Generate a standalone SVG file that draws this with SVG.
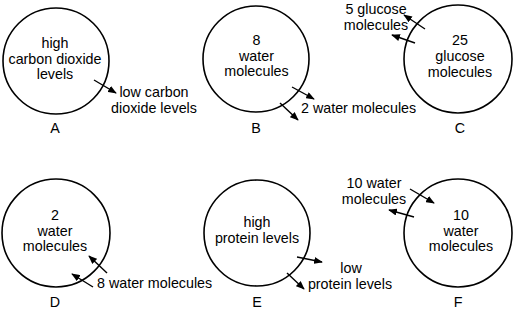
<svg xmlns="http://www.w3.org/2000/svg" width="514" height="310" viewBox="0 0 514 310">
<defs>
<marker id="ah" viewBox="0 0 10 8" refX="9" refY="4" markerWidth="9" markerHeight="7" markerUnits="userSpaceOnUse" orient="auto">
<path d="M0,0 L10,4 L0,8 Z" fill="#000"/>
</marker>
<style>
.c{fill:none;stroke:#000;stroke-width:1.6}
.t{font-family:"Liberation Sans",Arial,sans-serif;font-size:14.3px;fill:#000}
.m{text-anchor:middle}
.a{stroke:#000;stroke-width:1.4;fill:none;marker-end:url(#ah)}
</style>
</defs>
<rect width="514" height="310" fill="#fff"/>
<g id="nodeA">
<circle class="c" cx="56" cy="61" r="53"/>
<text class="t m" x="55" y="48">high</text>
<text class="t m" x="55" y="64">carbon dioxide</text>
<text class="t m" x="55" y="79">levels</text>
<text class="t m" x="154" y="97">low carbon</text>
<text class="t m" x="154" y="113">dioxide levels</text>
<text class="t m" x="55" y="133">A</text>
</g>
<g id="nodeB">
<circle class="c" cx="256" cy="59" r="53"/>
<text class="t m" x="256.5" y="45">8</text>
<text class="t m" x="256.5" y="61">water</text>
<text class="t m" x="256.5" y="76">molecules</text>
<text class="t" x="301" y="113">2 water molecules</text>
<text class="t m" x="256" y="133">B</text>
</g>
<g id="nodeC">
<circle class="c" cx="458" cy="59" r="54"/>
<text class="t m" x="460" y="45">25</text>
<text class="t m" x="460" y="61">glucose</text>
<text class="t m" x="460" y="77">molecules</text>
<text class="t m" x="376" y="14">5 glucose</text>
<text class="t m" x="376" y="30">molecules</text>
<text class="t m" x="460" y="133">C</text>
</g>
<g id="nodeD">
<circle class="c" cx="56" cy="233" r="54"/>
<text class="t m" x="55" y="220">2</text>
<text class="t m" x="55" y="236">water</text>
<text class="t m" x="55" y="251">molecules</text>
<text class="t" x="97" y="288">8 water molecules</text>
<text class="t m" x="55" y="307">D</text>
</g>
<g id="nodeE">
<circle class="c" cx="257" cy="233" r="53"/>
<text class="t m" x="257" y="227">high</text>
<text class="t m" x="257" y="243">protein levels</text>
<text class="t m" x="351" y="273">low</text>
<text class="t m" x="350" y="289">protein levels</text>
<text class="t m" x="257" y="307">E</text>
</g>
<g id="nodeF">
<circle class="c" cx="458" cy="233" r="54"/>
<text class="t m" x="461" y="220">10</text>
<text class="t m" x="461" y="236">water</text>
<text class="t m" x="461" y="251">molecules</text>
<text class="t m" x="374" y="188">10 water</text>
<text class="t m" x="374" y="204">molecules</text>
<text class="t m" x="458" y="307">F</text>
</g>
<g id="connectors">
<line class="a" x1="94" y1="80" x2="116" y2="93"/>
<line class="a" x1="292" y1="87" x2="314" y2="99"/>
<line class="a" x1="280" y1="103" x2="298" y2="120"/>
<line class="a" x1="425" y1="29" x2="404" y2="15"/>
<line class="a" x1="415" y1="43" x2="392" y2="35"/>
<line class="a" x1="107" y1="273" x2="89" y2="256"/>
<line class="a" x1="93" y1="287" x2="72" y2="274"/>
<line class="a" x1="297" y1="257" x2="322" y2="262"/>
<line class="a" x1="287" y1="273" x2="304" y2="289"/>
<line class="a" x1="410" y1="189" x2="434" y2="203"/>
<line class="a" x1="414" y1="217" x2="389" y2="210"/>
</g>
</svg>
